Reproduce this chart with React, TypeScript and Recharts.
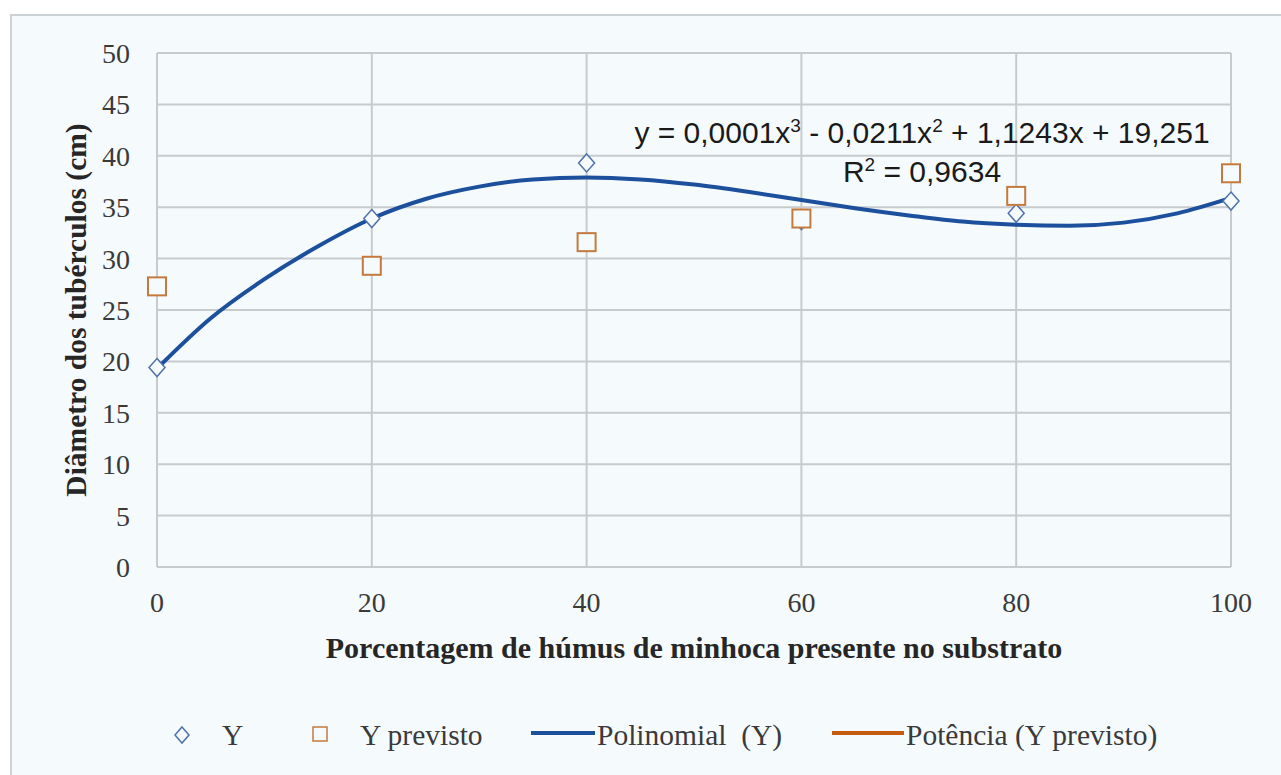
import React from "react";
import {
  ComposedChart,
  Scatter,
  Line,
  XAxis,
  YAxis,
  CartesianGrid,
} from "recharts";

// values
const doses = [0, 20, 40, 60, 80, 100];
const yObserved = [19.4, 33.9, 39.3, 33.7, 34.4, 35.6];
const yPredicted = [27.3, 29.3, 31.6, 33.9, 36.1, 38.3];

// trend line (Polinomial (Y))
const trendX = [0, 5, 10, 15, 20, 25, 30, 35, 40, 45, 50, 55, 60, 65, 70, 75, 80, 85, 90, 95, 100];
const trendY = [19.3, 24.2, 28.0, 31.2, 33.9, 35.8, 37.0, 37.7, 37.9, 37.7, 37.2, 36.5, 35.7, 34.9, 34.2, 33.6, 33.3, 33.2, 33.5, 34.4, 35.9];

const xTicks = [0, 20, 40, 60, 80, 100];
const yTicks = [0, 5, 10, 15, 20, 25, 30, 35, 40, 45, 50];

const observedData = doses.map((x, i) => ({ x, y: yObserved[i] }));
const predictedData = doses.map((x, i) => ({ x, y: yPredicted[i] }));
const trendData = trendX.map((x, i) => ({ x, y: trendY[i] }));

const BG = "#f5fafd";
const BLUE_MARK = "#4f72a8";
const ORANGE_MARK = "#c47a3e";
const TREND_BLUE = "#1c4f9c";
const POWER_ORANGE = "#c55a11";
const SERIF = "'Liberation Serif', 'Times New Roman', serif";

const Diamond = (props: any) => {
  const { cx, cy } = props;
  if (cx == null || cy == null) return null;
  const r = 9;
  return (
    <polygon
      points={`${cx},${cy - r} ${cx + r - 1},${cy} ${cx},${cy + r} ${cx - r + 1},${cy}`}
      fill={BG}
      stroke={BLUE_MARK}
      strokeWidth={1.5}
    />
  );
};

const Square = (props: any) => {
  const { cx, cy } = props;
  if (cx == null || cy == null) return null;
  const h = 9;
  return (
    <rect x={cx - h} y={cy - h} width={h * 2} height={h * 2} fill={BG} stroke={ORANGE_MARK} strokeWidth={2} />
  );
};

const legendItems = [
  { label: "Y", kind: "diamond", markX: 182, textX: 222 },
  { label: "Y previsto", kind: "square", markX: 320, textX: 360 },
  { label: "Polinomial  (Y)", kind: "line", color: TREND_BLUE, markX: 531, textX: 597 },
  { label: "Potência (Y previsto)", kind: "line", color: POWER_ORANGE, markX: 832, textX: 906 },
];

const LEGEND_Y = 736;

const ChartLegend = () => (
  <>
    {legendItems.map((it) => (
      <React.Fragment key={it.label}>
        {it.kind === "diamond" && (
          <svg width={20} height={20} style={{ position: "absolute", left: it.markX - 10, top: LEGEND_Y - 11 }}>
            <polygon points="10,2 17,10 10,18 3,10" fill={BG} stroke={BLUE_MARK} strokeWidth={1.5} />
          </svg>
        )}
        {it.kind === "square" && (
          <svg width={20} height={20} style={{ position: "absolute", left: it.markX - 10, top: LEGEND_Y - 12 }}>
            <rect x={3} y={3} width={14} height={14} fill={BG} stroke={ORANGE_MARK} strokeWidth={1.5} />
          </svg>
        )}
        {it.kind === "line" && (
          <svg width={it.textX - it.markX} height={10} style={{ position: "absolute", left: it.markX, top: LEGEND_Y - 8 }}>
            <line x1={0} y1={5} x2={it.textX - it.markX - 2} y2={5} stroke={it.color} strokeWidth={4} />
          </svg>
        )}
        <span
          style={{
            position: "absolute",
            left: it.textX,
            top: LEGEND_Y - 19,
            fontFamily: SERIF,
            fontSize: 29.5,
            lineHeight: "36px",
            color: "#3a3a3a",
            whiteSpace: "pre",
          }}
        >
          {it.label}
        </span>
      </React.Fragment>
    ))}
  </>
);

const supStyle: React.CSSProperties = { fontSize: 19, verticalAlign: "11px", lineHeight: 0 };

export default function App() {
  return (
    <div style={{ position: "fixed", left: 0, top: 0, width: 1281, height: 775, background: "#ffffff", overflow: "hidden" }}>
      <div
        style={{
          position: "absolute",
          left: 10,
          top: 14,
          width: 1290,
          height: 780,
          background: BG,
          border: "2px solid #cdd2d6",
        }}
      />
      <div style={{ position: "absolute", left: 0, top: 0 }}>
        <ComposedChart width={1281} height={775} margin={{ top: 53, right: 50, bottom: 178, left: 0 }}>
          <CartesianGrid stroke="#c8cbce" strokeWidth={2} />
          <XAxis
            type="number"
            dataKey="x"
            domain={[0, 100]}
            ticks={xTicks}
            height={30}
            axisLine={false}
            tickLine={false}
            tickSize={0}
            tickMargin={25}
            tick={{ fontFamily: SERIF, fontSize: 28, fill: "#3a3a3a" }}
            label={{
              value: "Porcentagem de húmus de minhoca presente no substrato",
              position: "insideBottom",
              offset: -61,
              style: { fontFamily: SERIF, fontSize: 30, fontWeight: "bold", fill: "#262626" },
            }}
          />
          <YAxis
            type="number"
            dataKey="y"
            domain={[0, 50]}
            ticks={yTicks}
            width={157}
            axisLine={false}
            tickLine={false}
            tickSize={0}
            tickMargin={27}
            tick={{ fontFamily: SERIF, fontSize: 28, fill: "#3a3a3a" }}
            label={{
              value: "Diâmetro dos tubérculos (cm)",
              angle: -90,
              position: "insideLeft",
              offset: 76,
              style: { fontFamily: SERIF, fontSize: 29.5, fontWeight: "bold", fill: "#262626", textAnchor: "middle" },
            }}
          />
          <Scatter name="Y" data={observedData} shape={<Diamond />} isAnimationActive={false} />
          <Scatter name="Y previsto" data={predictedData} shape={<Square />} isAnimationActive={false} />
          <Line
            name="Polinomial (Y)"
            data={trendData}
            dataKey="y"
            type="monotone"
            stroke={TREND_BLUE}
            strokeWidth={4}
            dot={false}
            activeDot={false}
            isAnimationActive={false}
          />
        </ComposedChart>
      </div>
      <ChartLegend />
      <div
        style={{
          position: "absolute",
          left: 622,
          top: 113,
          width: 600,
          textAlign: "center",
          fontFamily: "'Liberation Sans', Arial, sans-serif",
          fontSize: 30,
          lineHeight: "39px",
          color: "#1a1a1a",
        }}
      >
        <div>
          y = 0,0001x<sup style={supStyle}>3</sup> - 0,0211x<sup style={supStyle}>2</sup> + 1,1243x + 19,251
        </div>
        <div>
          R<sup style={supStyle}>2</sup> = 0,9634
        </div>
      </div>
    </div>
  );
}
